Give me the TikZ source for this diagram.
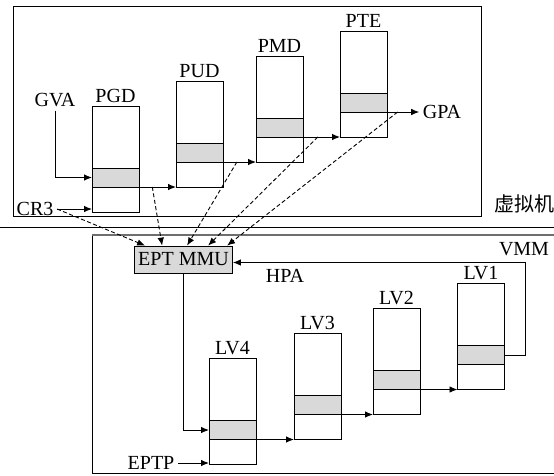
\documentclass[tikz,border=0pt]{standalone}
\usepackage{fontspec}
\setmainfont{Liberation Serif}
\newfontfamily\cjkfont{Noto Sans CJK SC}
\usetikzlibrary{positioning,arrows.meta}
\definecolor{bandgray}{RGB}{217,217,217}
\definecolor{framegray}{RGB}{110,110,110}

\begin{document}
\begin{tikzpicture}[
    x=1pt, y=-1pt,
    line width=0.8pt,
    font=\fontsize{20}{24}\selectfont,
    upper/.style={rectangle, draw, outer sep=0pt, minimum width=47pt, minimum height=62pt, inner sep=0pt},
    band/.style={rectangle, draw, outer sep=0pt, fill=bandgray, minimum width=47pt, minimum height=19pt, inner sep=0pt},
    lower/.style={rectangle, draw, outer sep=0pt, minimum width=47pt, minimum height=25pt, inner sep=0pt},
    mmu/.style={rectangle, draw, fill=bandgray, minimum width=98pt, minimum height=27pt, inner sep=1pt},
    arrow/.style={-{Latex[length=8pt,width=6.5pt]}, line width=0.9pt},
    darrow/.style={arrow, dash pattern=on 4pt off 2.5pt}
]
\useasboundingbox (0,0) rectangle (554,475);

% frames
\draw (13,6) rectangle (481,216);
\draw[line width=0.9pt] (0,227) -- (554,227);
\draw (92,235) -- (92,473) -- (554,473);
\draw[framegray, line width=1.4pt] (92,235) -- (554,235);

% page tables
\foreach \n/\x/\y/\t in {pgd/115.5/177.5/PGD, pud/199.5/152.5/PUD, pmd/279.5/127.5/PMD,
    pte/363.5/102.5/PTE, lv1/481/355/LV1, lv2/396.5/380/LV2, lv3/317.5/405/LV3, lv4/232.5/430/LV4}{
  \node[band] (\n-b) at (\x,\y) {};
  \node[upper, above=0pt of \n-b] (\n-u) {};
  \node[lower, below=0pt of \n-b] (\n-l) {};
  \node[above=0pt of \n-u] (\n-t) {\t};
}

\node (gva) at (55,100) {GVA};
\node (cr3) at (35,209) {CR3};
\node (gpa) at (442,112) {GPA};
\node[mmu] (mmu) at (183.5,259.5) {EPT MMU};
\node (hpa) at (285,276) {HPA};
\node (vmm) at (524,249) {VMM};
\node (eptp) at (151,463) {EPTP};
\node (vm) at (524,204) {\cjkfont 虚拟机};

% guest walk
\draw[arrow] (gva) |- (pgd-b.west);
\draw[arrow] (cr3) -- (cr3 -| pgd-l.west);
\draw[arrow] (pgd-b.south east) -- coordinate[pos=.36] (d1) (pgd-b.south east -| pud-l.west);
\draw[arrow] (pud-b.south east) -- coordinate[pos=.42] (d2) (pud-b.south east -| pmd-l.west);
\draw[arrow] (pmd-b.south east) -- coordinate[pos=.4] (d3) (pmd-b.south east -| pte-l.west);
\draw[arrow] (pte-b.south east) -- coordinate[pos=.33] (d4) (gpa);

% requests to EPT MMU
\coordinate (m1) at ([xshift=11pt]mmu.north west);
\coordinate (m2) at ([xshift=28pt]mmu.north west);
\coordinate (m3) at ([xshift=53pt]mmu.north west);
\coordinate (m4) at ([xshift=74pt]mmu.north west);
\coordinate (m5) at ([xshift=93pt]mmu.north west);
\draw[darrow] (cr3.east) -- (m1);
\draw[darrow] (d1) -- (m2);
\draw[darrow] (d2) -- (m3);
\draw[darrow] (d3) -- (m4);
\draw[darrow] (d4) -- (m5);

% host walk
\draw[arrow] (mmu) |- (lv4-b.west);
\draw[arrow] (eptp) -- (eptp -| lv4-l.west);
\draw[arrow] (lv4-b.south east) -- (lv4-b.south east -| lv3-l.west);
\draw[arrow] (lv3-b.south east) -- (lv3-b.south east -| lv2-l.west);
\draw[arrow] (lv2-b.south east) -- (lv2-b.south east -| lv1-l.west);
\draw[arrow] (lv1-b.east) -- ++(21,0) |- ([yshift=-3pt]mmu.east);

\end{tikzpicture}
\end{document}
